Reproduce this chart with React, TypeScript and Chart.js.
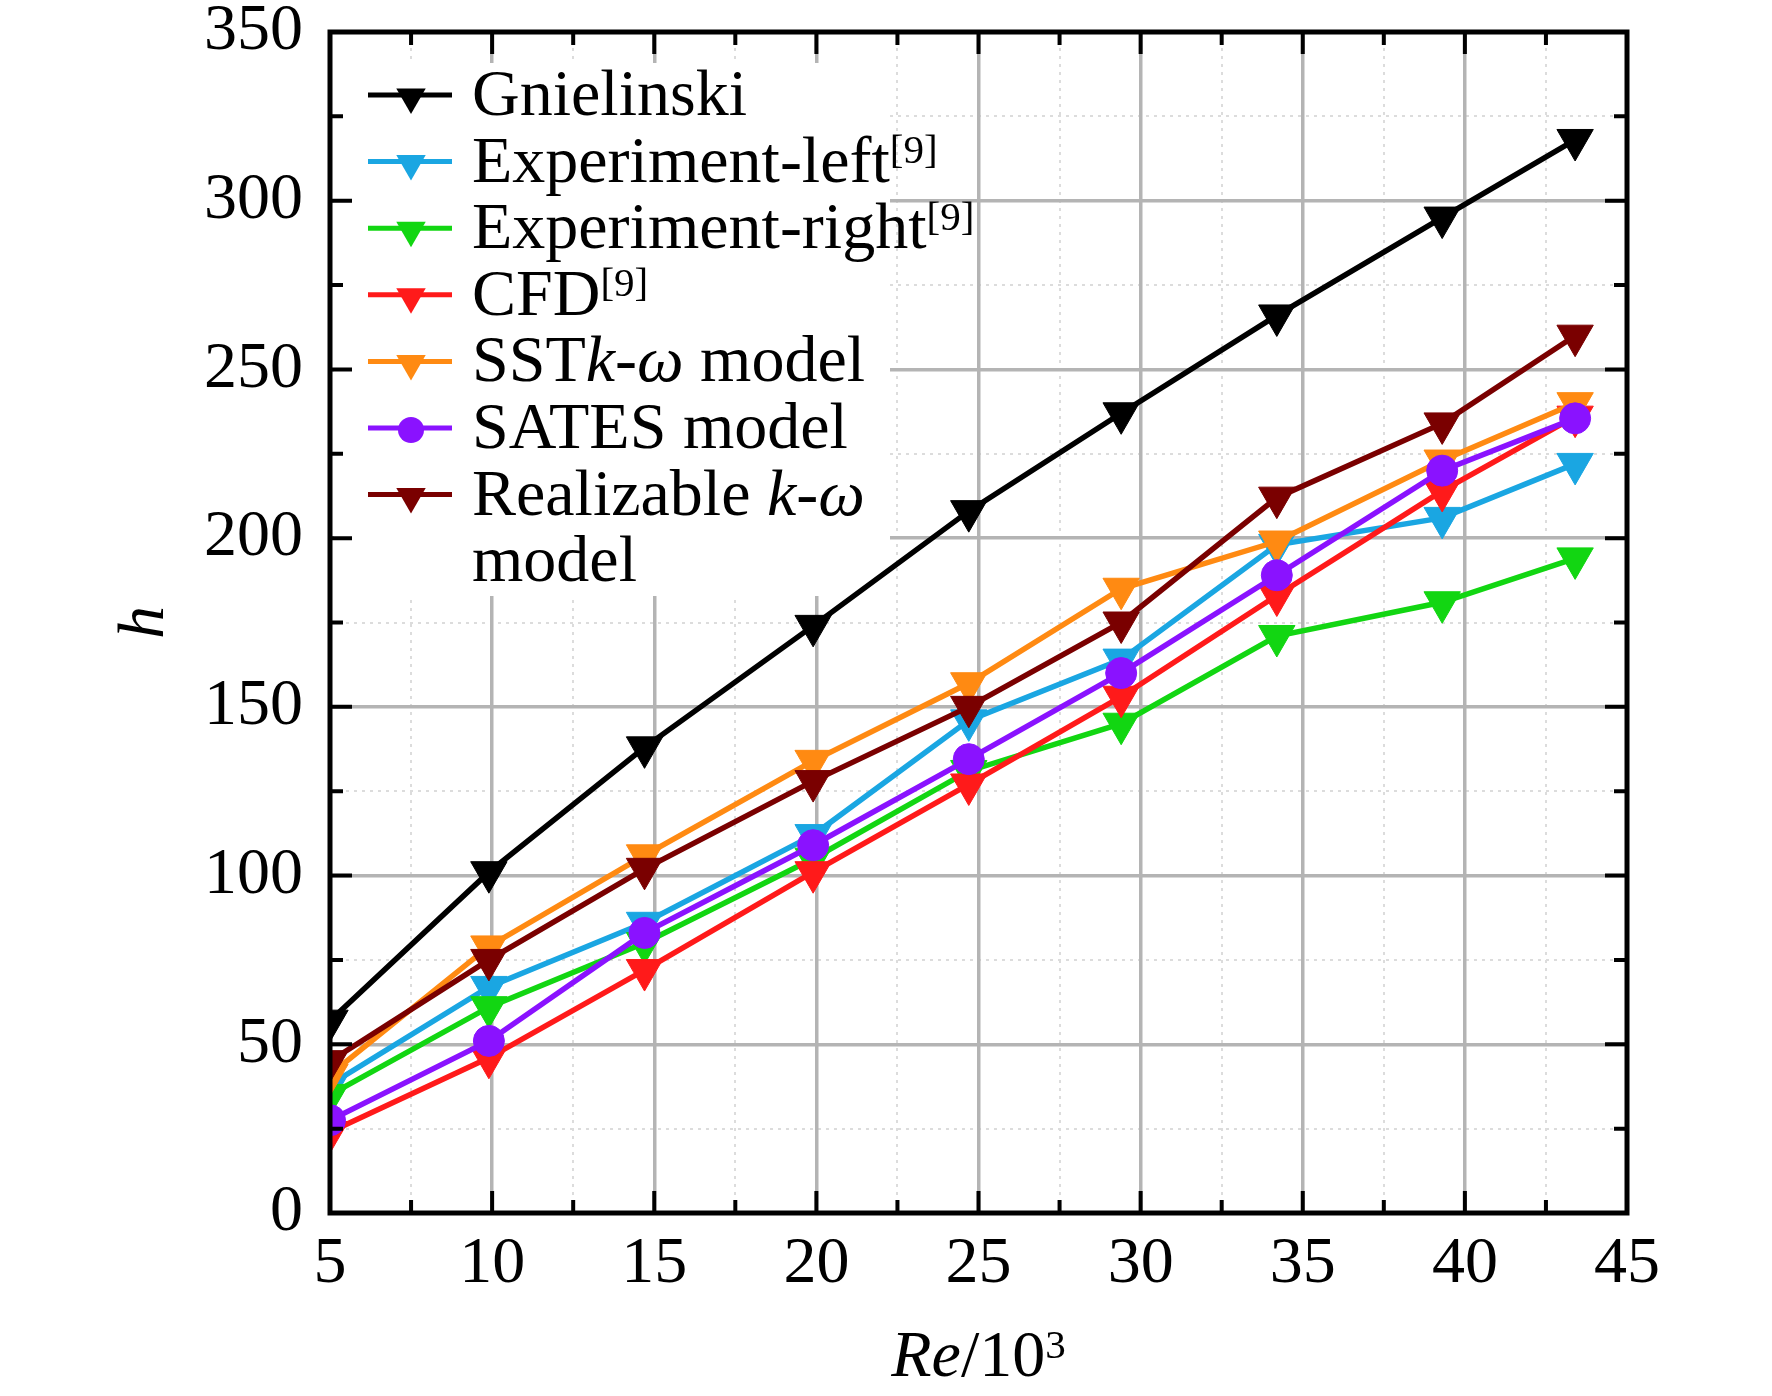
import { useEffect, useRef } from 'react';
import { Chart, registerables } from 'chart.js';

Chart.register(...registerables);

// Re/10^3 positions of the measured points
const reValues = [5.0, 9.9, 14.7, 19.9, 24.7, 29.4, 34.2, 39.3, 43.4];

const gnielinski = [57, 101, 138, 174, 208, 237, 266, 295, 318];
const experimentLeft = [38, 67, 86, 112, 146, 164, 198, 206, 222];
const experimentRight = [35, 61, 80, 105, 131, 145, 171, 181, 194];
const cfd = [24, 46, 72, 101, 127, 153, 183, 214, 236];
const sstKOmega = [41, 79, 106, 134, 157, 185, 199, 223, 240];
const sates = [27.5, 51, 83, 109, 134.5, 160, 189, 220, 235.5];
const realizableKOmega = [45, 75, 102, 128, 150, 175, 212, 234, 260];

// *italic*  ^superscript^  \n new line
const seriesLabels = [
  'Gnielinski',
  'Experiment-left^[9]^',
  'Experiment-right^[9]^',
  'CFD^[9]^',
  'SST*k*-*ω* model',
  'SATES model',
  'Realizable *k*-*ω*\nmodel',
];
const seriesData = [gnielinski, experimentLeft, experimentRight, cfd, sstKOmega, sates, realizableKOmega];
const seriesColors = ['#000000', '#1aa6e2', '#12d612', '#ff1a1a', '#ff8a12', '#8a12ff', '#7a0000'];
const seriesMarkers = ['triangle', 'triangle', 'triangle', 'triangle', 'triangle', 'circle', 'triangle'];

const xRange = [5, 45];
const xMajorStep = 5;
const xMinorStep = 2.5;
const yRange = [0, 350];
const yMajorStep = 50;
const yMinorStep = 25;

const xTitle = '*Re*/10^3^';
const yTitle = 'h';

const FONT = '"Liberation Serif", "Times New Roman", serif';
const FONT_SIZE = 66;

const parseRich = (text) => {
  const parts = text.split(/(\*[^*]+\*|\^[^^]+\^)/).filter((p) => p.length > 0);
  return parts.map((p) => {
    if (p.startsWith('*')) return { text: p.slice(1, -1), italic: true, sup: false };
    if (p.startsWith('^')) return { text: p.slice(1, -1), italic: false, sup: true };
    return { text: p, italic: false, sup: false };
  });
};

const segFont = (seg, size) => {
  const s = seg.sup ? Math.round(size * 0.62) : size;
  return `${seg.italic ? 'italic ' : ''}${s}px ${FONT}`;
};

const measureRich = (ctx, text, size) => {
  let w = 0;
  parseRich(text).forEach((seg) => {
    ctx.font = segFont(seg, size);
    w += ctx.measureText(seg.text).width;
  });
  return w;
};

const drawRich = (ctx, text, x, baseline, size) => {
  let cx = x;
  ctx.textAlign = 'left';
  ctx.textBaseline = 'alphabetic';
  parseRich(text).forEach((seg) => {
    ctx.font = segFont(seg, size);
    ctx.fillText(seg.text, cx, seg.sup ? baseline - size * 0.28 : baseline);
    cx += ctx.measureText(seg.text).width;
  });
};

const drawMarker = (ctx, style, x, y, r, color) => {
  ctx.save();
  ctx.fillStyle = color;
  ctx.beginPath();
  if (style === 'circle') {
    ctx.arc(x, y, r, 0, Math.PI * 2);
  } else {
    // downward triangle
    ctx.moveTo(x, y + r);
    ctx.lineTo(x - r * 0.866, y - r * 0.5);
    ctx.lineTo(x + r * 0.866, y - r * 0.5);
    ctx.closePath();
  }
  ctx.fill();
  ctx.restore();
};

const isMultiple = (v, step) => Math.abs(v / step - Math.round(v / step)) < 1e-6;

const legendPlugin = {
  id: 'richLegend',
  beforeDatasetsDraw(chart) {
    const { ctx, chartArea } = chart;
    const left = chartArea.left;
    const top = chartArea.top;
    const rowStep = 66.6;
    ctx.save();
    ctx.fillStyle = '#ffffff';
    ctx.fillRect(left + 4, top + 31, 556, 533);

    let baseline = top + 83;
    chart.data.datasets.forEach((ds, i) => {
      const lines = seriesLabels[i].split('\n');
      const lineY = baseline - 20;
      ctx.strokeStyle = seriesColors[i];
      ctx.lineWidth = 5;
      ctx.beginPath();
      ctx.moveTo(left + 38, lineY);
      ctx.lineTo(left + 122, lineY);
      ctx.stroke();
      drawMarker(ctx, seriesMarkers[i], left + 81, lineY + 2, seriesMarkers[i] === 'circle' ? 13 : 17, seriesColors[i]);
      ctx.fillStyle = '#000000';
      lines.forEach((ln) => {
        drawRich(ctx, ln, left + 142, baseline, FONT_SIZE);
        baseline += rowStep;
      });
    });
    ctx.restore();
  },
  afterDatasetsDraw(chart) {
    const { ctx, chartArea, scales } = chart;
    const { left, right, top, bottom } = chartArea;
    ctx.save();
    ctx.strokeStyle = '#000000';
    ctx.lineCap = 'butt';
    ctx.lineWidth = 4;
    // inward ticks on all four sides
    scales.xMinor.ticks.forEach((t) => {
      const px = scales.x.getPixelForValue(t.value);
      const len = isMultiple(t.value, xMajorStep) ? 22 : 13;
      ctx.beginPath();
      ctx.moveTo(px, bottom);
      ctx.lineTo(px, bottom - len);
      ctx.moveTo(px, top);
      ctx.lineTo(px, top + len);
      ctx.stroke();
    });
    scales.yMinor.ticks.forEach((t) => {
      const py = scales.y.getPixelForValue(t.value);
      const len = isMultiple(t.value, yMajorStep) ? 22 : 13;
      ctx.beginPath();
      ctx.moveTo(left, py);
      ctx.lineTo(left + len, py);
      ctx.moveTo(right, py);
      ctx.lineTo(right - len, py);
      ctx.stroke();
    });
    ctx.lineWidth = 5;
    ctx.strokeRect(left, top, right - left, bottom - top);

    // x axis title with italic and superscript
    ctx.fillStyle = '#000000';
    const w = measureRich(ctx, xTitle, FONT_SIZE);
    drawRich(ctx, xTitle, (left + right) / 2 - w / 2, 1376, FONT_SIZE);
    ctx.restore();
  },
};

const zeroPad = (scale) => {
  scale.paddingLeft = 0;
  scale.paddingRight = 0;
  scale.paddingTop = 0;
  scale.paddingBottom = 0;
};

const App = () => {
  const canvasRef = useRef(null);
  const chartRef = useRef(null);

  useEffect(() => {
    const ctx = canvasRef.current.getContext('2d');
    if (chartRef.current) chartRef.current.destroy();

    Chart.defaults.font.family = FONT;

    const n = seriesData.length;
    const datasets = seriesData.map((vals, i) => ({
      label: seriesLabels[i].replace(/[*^]/g, '').replace('\n', ' '),
      data: reValues.map((x, j) => ({ x, y: vals[j] })),
      borderColor: seriesColors[i],
      backgroundColor: seriesColors[i],
      borderWidth: 5.5,
      tension: 0,
      pointStyle: seriesMarkers[i],
      pointRadius: seriesMarkers[i] === 'circle' ? 15.5 : 21,
      pointRotation: seriesMarkers[i] === 'triangle' ? 180 : 0,
      pointBorderWidth: 1,
      pointBorderColor: seriesColors[i],
      pointBackgroundColor: seriesColors[i],
      clip: 0,
      order: n - i,
    }));

    chartRef.current = new Chart(ctx, {
      type: 'line',
      data: { datasets },
      plugins: [legendPlugin],
      options: {
        animation: false,
        responsive: true,
        maintainAspectRatio: false,
        devicePixelRatio: 1,
        layout: { padding: { left: 0, right: 145, top: 32, bottom: 0 } },
        plugins: {
          legend: { display: false },
          tooltip: { enabled: false },
        },
        scales: {
          xMinor: {
            type: 'linear',
            position: 'bottom',
            min: xRange[0],
            max: xRange[1],
            ticks: { display: false, stepSize: xMinorStep },
            grid: {
              drawTicks: false,
              lineWidth: 2,
              color: (c) => (isMultiple(c.tick.value, xMajorStep) ? 'rgba(0,0,0,0)' : '#dcdcdc'),
            },
            border: { display: false, dash: [3, 5] },
            afterFit: (s) => { s.height = 0; zeroPad(s); },
          },
          yMinor: {
            type: 'linear',
            position: 'left',
            min: yRange[0],
            max: yRange[1],
            ticks: { display: false, stepSize: yMinorStep },
            grid: {
              drawTicks: false,
              lineWidth: 2,
              color: (c) => (isMultiple(c.tick.value, yMajorStep) ? 'rgba(0,0,0,0)' : '#dcdcdc'),
            },
            border: { display: false, dash: [3, 5] },
            afterFit: (s) => { s.width = 0; zeroPad(s); },
          },
          x: {
            type: 'linear',
            position: 'bottom',
            min: xRange[0],
            max: xRange[1],
            ticks: {
              stepSize: xMajorStep,
              color: '#000000',
              padding: 12,
              maxRotation: 0,
              font: { size: FONT_SIZE, family: FONT },
            },
            grid: { drawTicks: false, color: '#b4b4b4', lineWidth: 3.5 },
            border: { display: false },
            afterFit: (s) => { s.height = 183; zeroPad(s); },
          },
          y: {
            type: 'linear',
            position: 'left',
            min: yRange[0],
            max: yRange[1],
            ticks: {
              stepSize: yMajorStep,
              color: '#000000',
              padding: 27,
              font: { size: FONT_SIZE, family: FONT, lineHeight: 0.9 },
            },
            title: {
              display: true,
              text: yTitle,
              color: '#000000',
              font: { size: FONT_SIZE, family: FONT, style: 'italic' },
              padding: { top: 106, bottom: 0 },
            },
            grid: { drawTicks: false, color: '#b4b4b4', lineWidth: 3.5 },
            border: { display: false },
            afterFit: (s) => { s.width = 330; zeroPad(s); },
          },
        },
      },
    });

    return () => {
      if (chartRef.current) {
        chartRef.current.destroy();
        chartRef.current = null;
      }
    };
  }, []);

  return (
    <div style={{ position: 'absolute', left: 0, top: 0, width: 1772, height: 1396, background: '#ffffff' }}>
      <canvas ref={canvasRef}></canvas>
    </div>
  );
};

export default App;
